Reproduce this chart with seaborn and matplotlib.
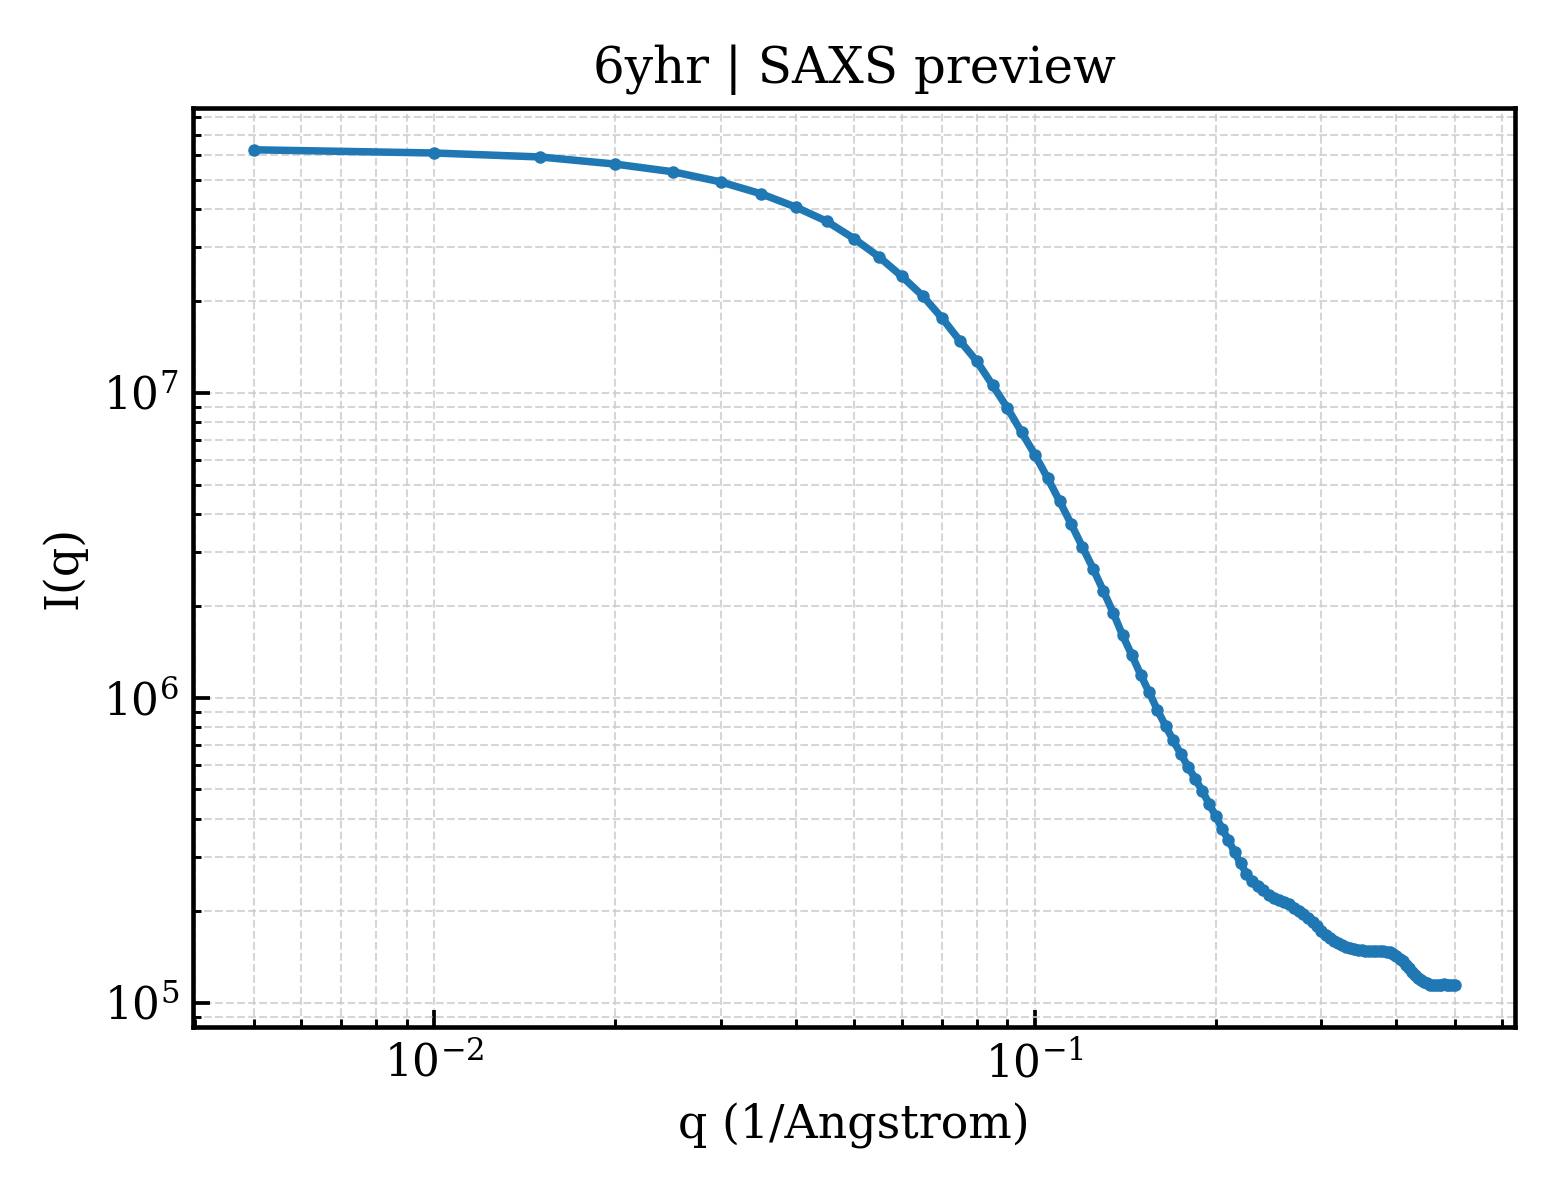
import numpy as np
import pandas as pd
import matplotlib
matplotlib.use("Agg")
import matplotlib.pyplot as plt
import seaborn as sns

# q grid and intensities
q = [0.005, 0.010, 0.015, 0.020, 0.025, 0.030, 0.035, 0.040, 0.045, 0.050,
     0.055, 0.060, 0.065, 0.070, 0.075, 0.080, 0.085, 0.090, 0.095, 0.100,
     0.105, 0.110, 0.115, 0.120, 0.125, 0.130, 0.135, 0.140, 0.145, 0.150,
     0.155, 0.160, 0.165, 0.170, 0.175, 0.180, 0.185, 0.190, 0.195, 0.200,
     0.205, 0.210, 0.215, 0.220, 0.225, 0.230, 0.235, 0.240, 0.245, 0.250,
     0.255, 0.260, 0.265, 0.270, 0.275, 0.280, 0.285, 0.290, 0.295, 0.300,
     0.305, 0.310, 0.315, 0.320, 0.325, 0.330, 0.335, 0.340, 0.345, 0.350,
     0.355, 0.360, 0.365, 0.370, 0.375, 0.380, 0.385, 0.390, 0.395, 0.400,
     0.405, 0.410, 0.415, 0.420, 0.425, 0.430, 0.435, 0.440, 0.445, 0.450,
     0.455, 0.460, 0.465, 0.470, 0.475, 0.480, 0.485, 0.490, 0.495, 0.500]

intensity = [6.26e7, 6.11e7, 5.93e7, 5.62e7, 5.30e7, 4.91e7, 4.49e7, 4.06e7, 3.65e7, 3.20e7,
             2.79e7, 2.41e7, 2.08e7, 1.76e7, 1.48e7, 1.27e7, 1.06e7, 8.91e6, 7.43e6, 6.26e6,
             5.25e6, 4.40e6, 3.70e6, 3.12e6, 2.65e6, 2.24e6, 1.90e6, 1.60e6, 1.38e6, 1.19e6,
             1.04e6, 9.10e5, 8.09e5, 7.24e5, 6.53e5, 5.93e5, 5.41e5, 4.94e5, 4.49e5, 4.09e5,
             3.72e5, 3.41e5, 3.12e5, 2.86e5, 2.65e5, 2.50e5, 2.42e5, 2.336e5, 2.262e5, 2.210e5,
             2.173e5, 2.141e5, 2.101e5, 2.050e5, 1.998e5, 1.952e5, 1.898e5, 1.839e5, 1.779e5, 1.722e5,
             1.671e5, 1.630e5, 1.598e5, 1.569e5, 1.546e5, 1.527e5, 1.514e5, 1.502e5, 1.492e5, 1.483e5,
             1.477e5, 1.473e5, 1.473e5, 1.473e5, 1.473e5, 1.473e5, 1.469e5, 1.461e5, 1.442e5, 1.419e5,
             1.395e5, 1.365e5, 1.333e5, 1.296e5, 1.263e5, 1.233e5, 1.209e5, 1.189e5, 1.169e5, 1.156e5,
             1.143e5, 1.139e5, 1.139e5, 1.140e5, 1.144e5, 1.148e5, 1.146e5, 1.143e5, 1.140e5, 1.139e5]

df = pd.DataFrame({"q": q, "I": intensity})

sns.set_style("white")
plt.rcParams["font.family"] = ["DejaVu Serif"]
plt.rcParams["mathtext.fontset"] = "dejavuserif"
plt.rcParams["text.color"] = "black"
plt.rcParams["axes.labelcolor"] = "black"
plt.rcParams["xtick.color"] = "black"
plt.rcParams["ytick.color"] = "black"

fig, ax = plt.subplots(figsize=(5.2, 4.0), dpi=300)
fig.subplots_adjust(left=0.124, right=0.971, top=0.91, bottom=0.144)

sns.lineplot(data=df, x="q", y="I", ax=ax, color="#1f77b4", linewidth=1.8,
             marker="o", markersize=3, markeredgewidth=0, sort=False)

ax.set_xscale("log")
ax.set_yscale("log")
ax.grid(True, which="both", linestyle="--", linewidth=0.5, color="#cccccc", alpha=0.8)
ax.set_axisbelow(True)

for s in ax.spines.values():
    s.set_visible(True)
    s.set_color("black")
    s.set_linewidth(1.1)

# seaborn "white" hides the ticks, turn them back on (inward, bottom/left only)
ax.tick_params(which="both", direction="in", bottom=True, left=True,
               top=False, right=False, labelsize=10.5, colors="black")
ax.tick_params(which="major", length=4, width=0.9)
ax.tick_params(which="minor", length=2, width=0.7)

ax.set_xlabel("q (1/Angstrom)", fontsize=11)
ax.set_ylabel("I(q)", fontsize=11)
ax.set_title("6yhr | SAXS preview", fontsize=12)

fig.savefig("out.png", dpi=300)
